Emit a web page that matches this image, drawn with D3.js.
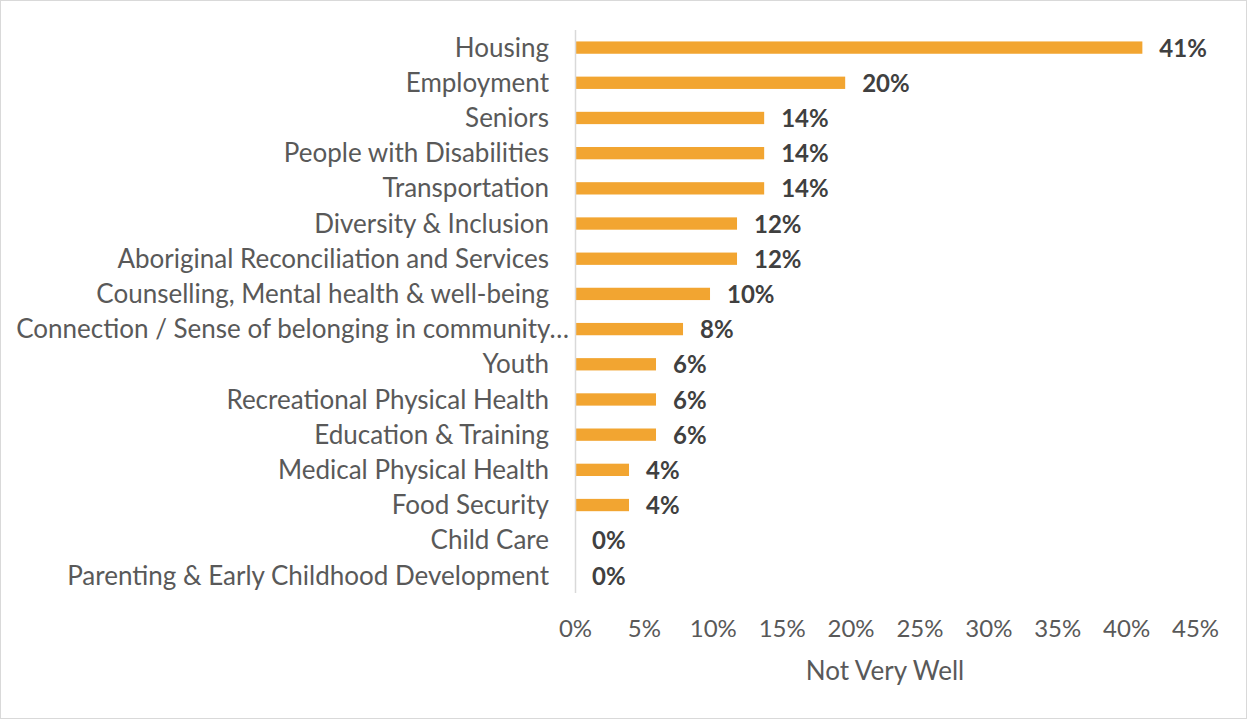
<!DOCTYPE html>
<html><head><meta charset="utf-8">
<script src="https://cdn.jsdelivr.net/npm/d3@7"></script>
<style>body{margin:0;background:#fff}svg{display:block}</style>
</head><body>
<svg id="c" width="1247" height="719"></svg>
<script>
const categories = ["Housing","Employment","Seniors","People with Disabilities","Transportation","Diversity & Inclusion","Aboriginal Reconciliation and Services","Counselling, Mental health & well-being","Connection / Sense of belonging in community…","Youth","Recreational Physical Health","Education & Training","Medical Physical Health","Food Security","Child Care","Parenting & Early Childhood Development"];
const values = [0.4118,0.1961,0.1373,0.1373,0.1373,0.1176,0.1176,0.0980,0.0784,0.0588,0.0588,0.0588,0.0392,0.0392,0,0];
const xTicks = [0,0.05,0.10,0.15,0.20,0.25,0.30,0.35,0.40,0.45];
const axisTitle = "Not Very Well";

const svg = d3.select("#c");
const W = 1247, H = 719;
const font = "Lato, 'Open Sans', sans-serif";
svg.append("rect").attr("x",0.5).attr("y",0.5).attr("width",W-1).attr("height",H-1).attr("fill","#fff").attr("stroke","#d9d9d9");

const x = d3.scaleLinear().domain([0,0.45]).range([575,1195]);
const y = d3.scaleBand().domain(categories).range([30,593]).paddingInner(0.65).paddingOuter(0.325);

svg.append("g").selectAll("rect").data(categories).join("rect")
  .attr("x", x(0)).attr("y", d=>y(d)).attr("height", y.bandwidth())
  .attr("width", (d,i)=>x(values[i])-x(0)).attr("fill","#F2A531");

svg.append("line").attr("x1",x(0)+0.5).attr("x2",x(0)+0.5).attr("y1",30).attr("y2",593).attr("stroke","#d9d9d9").attr("stroke-width",1.5);

svg.append("g").selectAll("text").data(categories).join("text")
  .attr("x", d=> d.endsWith("…") ? 569 : 549)
  .attr("y", d=>y(d)+y.bandwidth()/2).attr("dy","0.35em")
  .attr("text-anchor","end").attr("font-family",font).attr("font-size",26).attr("fill","#595959").text(d=>d);

svg.append("g").selectAll("text").data(categories).join("text")
  .attr("x", (d,i)=>x(values[i])+17)
  .attr("y", d=>y(d)+y.bandwidth()/2).attr("dy","0.38em")
  .attr("font-family",font).attr("font-size",24).attr("font-weight","bold").attr("fill","#404040")
  .text((d,i)=>d3.format(".0%")(values[i]));

const ax = svg.append("g").attr("transform","translate(0,620)")
  .call(d3.axisBottom(x).tickValues(xTicks).tickFormat(d3.format(".0%")).tickSize(0).tickPadding(0));
ax.select(".domain").remove();
ax.selectAll("text").attr("font-family",font).attr("font-size",24).attr("fill","#595959").attr("dy","0.71em");

svg.append("text").attr("x",(x(0)+x(0.45))/2).attr("y",680).attr("text-anchor","middle")
  .attr("font-family",font).attr("font-size",26).attr("fill","#595959").text(axisTitle);
</script>
</body></html>
